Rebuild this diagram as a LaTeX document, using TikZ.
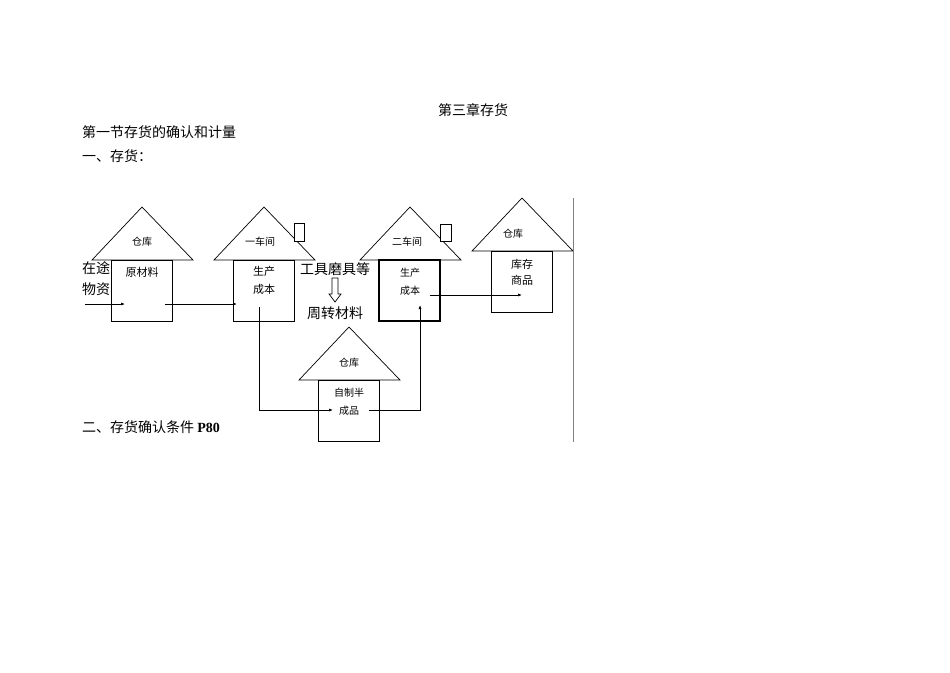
\documentclass[tikz,border=0pt]{standalone}
\usepackage{fontspec}
\newfontfamily\cjk{Noto Sans CJK SC}
\setmainfont{Liberation Serif}
\usetikzlibrary{arrows.meta}
\begin{document}
\begin{tikzpicture}[x=1pt,y=-1pt,
  big/.style={font=\cjk\fontsize{14}{16}\selectfont,inner sep=0pt},
  sm/.style={font=\cjk\fontsize{10}{12}\selectfont,inner sep=0pt},
  ln/.style={draw,line width=0.7pt},
  arr/.style={ln,-{Latex[length=4pt,width=3pt]}}]
\useasboundingbox (0,0) rectangle (950,672);
\newcommand\house[5]{% apex x, apex y, name
  \draw[ln] (#1-50,#2+53) -- (#1,#2) -- (#1+51,#2+53) -- cycle;
  \draw[ln] (#1-31,#2+53) rectangle (#1+30,#2+114);
}
\house{142}{207}{}{}{}
\house{264}{207}{}{}{}
\house{410}{207}{}{}{}
\house{522}{198}{}{}{}
\house{349}{327}{}{}{}
\draw[line width=1.2pt] (379,260) rectangle (440,321);
\draw[ln,fill=white] (294,223) rectangle (304,241);
\draw[ln,fill=white] (440,224) rectangle (451,241);
\draw[gray,line width=0.6pt] (573,198) -- (573,442);
\node[sm] (c1) at (142,242) {仓库};
\node[big,font=\cjk\fontsize{11}{13}\selectfont] (y1) at (142,272) {原材料};
\node[sm] (w1) at (260,242) {一车间};
\node[sm,align=center,font=\cjk\fontsize{11}{18}\selectfont] (s1) at (264,280) {生产\\成本};
\node[sm] (w2) at (407,242) {二车间};
\node[sm,align=center,font=\cjk\fontsize{10}{18}\selectfont] (s2) at (410,282) {生产\\成本};
\node[sm] (c4) at (513,234) {仓库};
\node[sm,align=center,font=\cjk\fontsize{11}{16}\selectfont] (k4) at (522,272) {库存\\商品};
\node[sm] (c5) at (349,363) {仓库};
\node[sm,align=center,font=\cjk\fontsize{10}{18}\selectfont] (k5) at (349,402) {自制半\\成品};
\node[big] (t0) at (473,110) {第三章存货};
\node[big,anchor=west] (t1) at (82,132) {第一节存货的确认和计量};
\node[big,anchor=west] (t2) at (82,156) {一、存货：};
\node[big,anchor=west,align=left,font=\cjk\fontsize{14}{21}\selectfont] (zt) at (82,279) {在途\\物资};
\node[big] (gj) at (335,269) {工具磨具等};
\node[big] (zz) at (335,313) {周转材料};
\node[big,anchor=west] (t3) at (82,427) {二、存货确认条件 \textbf{\rmfamily P80}};
\draw[ln,fill=white] (332,278) -- (338,278) -- (338,294) -- (341,294) -- (335,302) -- (329,294) -- (332,294) -- cycle;
\coordinate (a0) at (85,304); \coordinate (a1) at (125,304);
\draw[arr] (a0) -- (a1);
\coordinate (b0) at (165,304); \coordinate (b1) at (237,304);
\draw[arr] (b0) -- (b1);
\coordinate (d0) at (259,307); \coordinate (d1) at (333,410);
\draw[arr] (d0) |- (d1);
\coordinate (e0) at (369,410); \coordinate (e1) at (420,305);
\draw[arr] (e0) -| (e1);
\coordinate (f0) at (430,295); \coordinate (f1) at (522,295);
\draw[arr] (f0) -- (f1);
\end{tikzpicture}
\end{document}
